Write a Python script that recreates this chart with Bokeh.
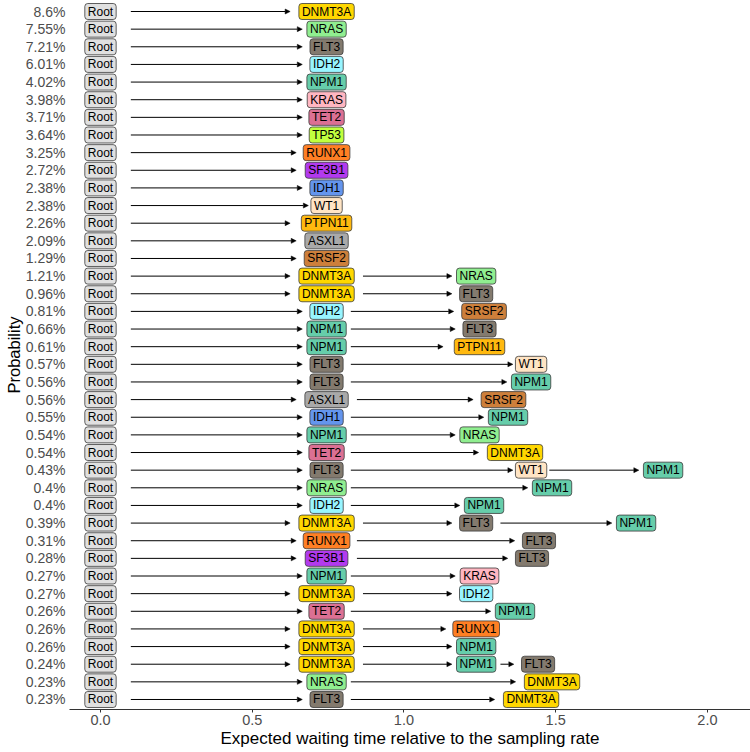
import math
from bokeh.plotting import figure
from bokeh.models import (ColumnDataSource, Arrow, NormalHead, FixedTicker,
                          Range1d, PrintfTickFormatter)
from bokeh.core.properties import value
from bokeh.embed import file_html
from bokeh.resources import INLINE

# ---------------- data ----------------
probabilities = [8.6, 7.55, 7.21, 6.01, 4.02, 3.98, 3.71, 3.64, 3.25, 2.72,
                 2.38, 2.38, 2.26, 2.09, 1.29, 1.21, 0.96, 0.81, 0.66, 0.61,
                 0.57, 0.56, 0.56, 0.55, 0.54, 0.54, 0.43, 0.4, 0.4, 0.39,
                 0.31, 0.28, 0.27, 0.27, 0.26, 0.26, 0.26, 0.24, 0.23, 0.23]

pathways = [
    ["DNMT3A"], ["NRAS"], ["FLT3"], ["IDH2"], ["NPM1"], ["KRAS"], ["TET2"],
    ["TP53"], ["RUNX1"], ["SF3B1"], ["IDH1"], ["WT1"], ["PTPN11"], ["ASXL1"],
    ["SRSF2"],
    ["DNMT3A", "NRAS"], ["DNMT3A", "FLT3"], ["IDH2", "SRSF2"], ["NPM1", "FLT3"],
    ["NPM1", "PTPN11"], ["FLT3", "WT1"], ["FLT3", "NPM1"], ["ASXL1", "SRSF2"],
    ["IDH1", "NPM1"], ["NPM1", "NRAS"], ["TET2", "DNMT3A"],
    ["FLT3", "WT1", "NPM1"], ["NRAS", "NPM1"], ["IDH2", "NPM1"],
    ["DNMT3A", "FLT3", "NPM1"], ["RUNX1", "FLT3"], ["SF3B1", "FLT3"],
    ["NPM1", "KRAS"], ["DNMT3A", "IDH2"], ["TET2", "NPM1"], ["DNMT3A", "RUNX1"],
    ["DNMT3A", "NPM1"], ["DNMT3A", "NPM1", "FLT3"], ["NRAS", "DNMT3A"],
    ["FLT3", "DNMT3A"],
]

waiting_times = [
    [0.745], [0.745], [0.745], [0.745], [0.745], [0.745], [0.745], [0.745],
    [0.745], [0.745], [0.745], [0.745], [0.745], [0.745], [0.745],
    [0.745, 1.238], [0.745, 1.238], [0.745, 1.264], [0.745, 1.249],
    [0.745, 1.249], [0.745, 1.419], [0.745, 1.419], [0.745, 1.328],
    [0.745, 1.343], [0.745, 1.249], [0.745, 1.366],
    [0.745, 1.419, 1.854], [0.745, 1.488], [0.745, 1.264],
    [0.745, 1.238, 1.765], [0.745, 1.445], [0.745, 1.422],
    [0.745, 1.249], [0.745, 1.238], [0.745, 1.366], [0.745, 1.238],
    [0.745, 1.238], [0.745, 1.238, 1.442], [0.745, 1.488], [0.745, 1.419],
]

gene_colors = {
    "Root": "#E0E0E0", "DNMT3A": "#FFD700", "NRAS": "#90EE90", "FLT3": "#837A6E",
    "IDH2": "#98F5FF", "NPM1": "#66CDAA", "KRAS": "#FFB6C1", "TET2": "#DB7093",
    "TP53": "#C0FF3E", "RUNX1": "#FF7F24", "SF3B1": "#B23AEE", "IDH1": "#6495ED",
    "WT1": "#FFE4C4", "PTPN11": "#FFB90F", "ASXL1": "#A9A9A9", "SRSF2": "#CD7F3B",
}

x_ticks = [0.0, 0.5, 1.0, 1.5, 2.0]

# ---------------- build sources ----------------
n = len(pathways)
char_w = 0.02      # arrow gap per label character (data units)
root_gap = 0.1

node_x, node_y, node_text, node_color = [], [], [], []
ax0, ax1, ay = [], [], []
for i, (path, times) in enumerate(zip(pathways, waiting_times)):
    yv = n - i
    node_x.append(0.0); node_y.append(yv); node_text.append("Root")
    node_color.append(gene_colors["Root"])
    prev_x, prev_gap = 0.0, root_gap
    for g, t in zip(path, times):
        node_x.append(t); node_y.append(yv); node_text.append(g)
        node_color.append(gene_colors[g])
        ax0.append(prev_x + prev_gap)
        ax1.append(t - char_w * len(g))
        ay.append(yv)
        prev_x, prev_gap = t, char_w * len(g)

nodes = ColumnDataSource(dict(x=node_x, y=node_y, label=node_text, color=node_color))
arrows = ColumnDataSource(dict(x0=ax0, x1=ax1, y=ay))

# ---------------- figure ----------------
p = figure(width=750, height=752,
           x_range=Range1d(-0.1021, 2.142), y_range=Range1d(0.433, 40.624),
           output_backend="svg", toolbar_location=None,
           min_border_left=69, min_border_right=0, min_border_top=0,
           min_border_bottom=43)
p.xgrid.visible = False
p.ygrid.visible = False
p.outline_line_color = None
p.background_fill_color = "white"

arr = Arrow(end=NormalHead(size=5, fill_color="black", line_color="black", line_width=0.5),
            x_start="x0", y_start="y", x_end="x1", y_end="y", source=arrows,
            line_color="black", line_width=1)
p.add_layout(arr)

p.text(x="x", y="y", text="label", source=nodes,
       text_align="center", text_baseline="middle",
       text_font=value("Liberation Sans"), text_font_size="12px", text_color="black",
       background_fill_color="color", border_line_color="#3a3a3a",
       border_line_width=0.8, border_radius=3,
       padding=dict(left=3, right=3, top=1, bottom=1))

# y axis: probabilities as tick labels
yticks = [n - i for i in range(n)]
p.yaxis.ticker = FixedTicker(ticks=yticks)
p.yaxis.major_label_overrides = {n - i: f"{v:g}%" for i, v in enumerate(probabilities)}
p.yaxis.axis_line_color = None
p.yaxis.major_tick_line_color = None
p.yaxis.minor_tick_line_color = None
p.yaxis.major_tick_out = 0
p.yaxis.major_tick_in = 0
p.yaxis.major_label_standoff = 4
p.yaxis.major_label_text_font = "Liberation Sans"
p.yaxis.major_label_text_font_size = "14px"
p.yaxis.major_label_text_color = "#4D4D4D"
p.yaxis.axis_label = "Probability"
p.yaxis.axis_label_text_font = "Liberation Sans"
p.yaxis.axis_label_text_font_size = "16.5px"
p.yaxis.axis_label_text_font_style = "normal"
p.yaxis.axis_label_text_color = "black"
p.yaxis.axis_label_standoff = 0

# x axis
p.xaxis.ticker = FixedTicker(ticks=x_ticks)
p.xaxis.formatter = PrintfTickFormatter(format="%.1f")
p.xaxis.axis_line_color = "#333333"
p.xaxis.axis_line_width = 1.2
p.xaxis.major_tick_line_color = "#333333"
p.xaxis.major_tick_out = 3
p.xaxis.major_tick_in = 0
p.xaxis.minor_tick_line_color = None
p.xaxis.major_label_standoff = 2
p.xaxis.major_label_text_font = "Liberation Sans"
p.xaxis.major_label_text_font_size = "14.5px"
p.xaxis.major_label_text_color = "#4D4D4D"
p.xaxis.axis_label = "Expected waiting time relative to the sampling rate"
p.xaxis.axis_label_text_font = "Liberation Sans"
p.xaxis.axis_label_text_font_size = "17px"
p.xaxis.axis_label_text_font_style = "normal"
p.xaxis.axis_label_text_color = "black"
p.xaxis.axis_label_standoff = 1

open("out.html", "w").write(file_html(p, INLINE))
